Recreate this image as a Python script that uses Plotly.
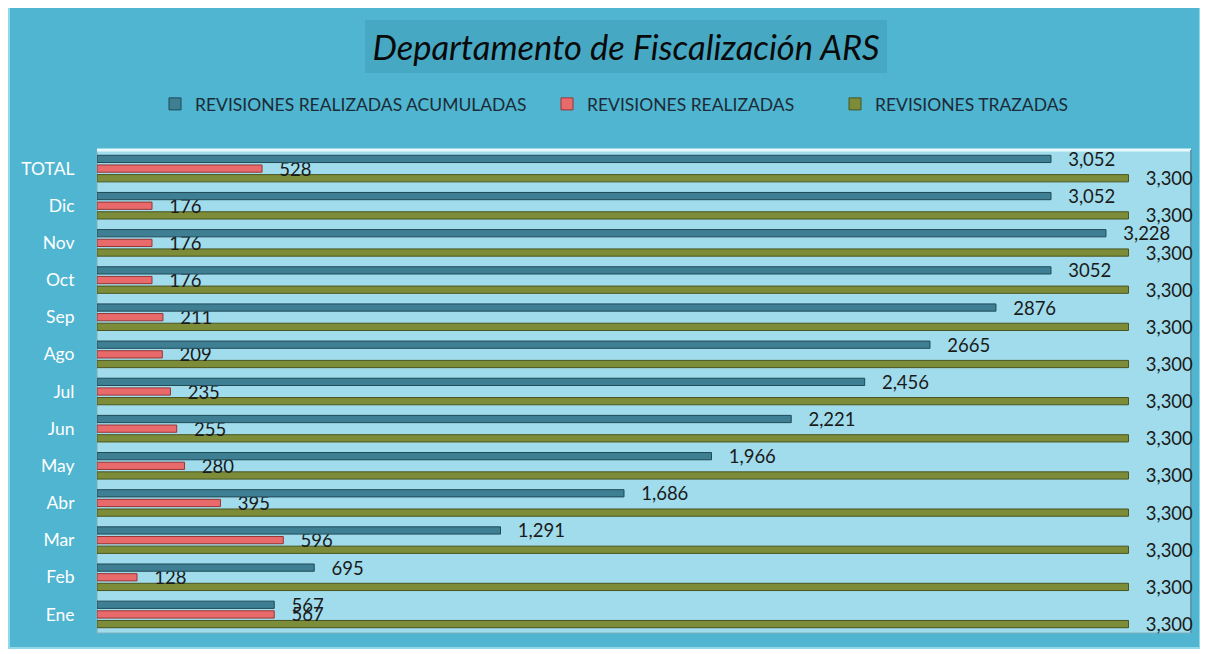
import plotly.graph_objects as go

categories = ["Ene", "Feb", "Mar", "Abr", "May", "Jun", "Jul", "Ago", "Sep", "Oct", "Nov", "Dic", "TOTAL"]
acumuladas = [567, 695, 1291, 1686, 1966, 2221, 2456, 2665, 2876, 3052, 3228, 3052, 3052]
acumuladas_txt = ["567", "695", "1,291", "1,686", "1,966", "2,221", "2,456", "2665", "2876", "3052", "3,228", "3,052", "3,052"]
realizadas = [567, 128, 596, 395, 280, 255, 235, 209, 211, 176, 176, 176, 528]
realizadas_txt = ["567", "128", "596", "395", "280", "255", "235", "209", "211", "176", "176", "176", "528"]
trazadas = [3300] * 13
trazadas_txt = ["3,300"] * 13

# page offset: the html body has an 8px margin
O = 8
PW, PH = 1208, 654
W, H = PW - O, PH - O
# plot area in page pixels
PL, PR, PT, PB = 97, 1191, 150, 633
L, T = PL - O, PT - O
R, B = PW - PR, PH - PB
pw, ph = PR - PL, PB - PT

def px_x(x):
    return (x - PL) / pw

def px_y(y):
    return (PB - y) / ph

fig = go.Figure()

series = [
    ("REVISIONES TRAZADAS", trazadas, trazadas_txt, "#7D8C38", "#4A5520", "legend3"),
    ("REVISIONES REALIZADAS", realizadas, realizadas_txt, "#E86A6A", "#9A3434", "legend2"),
    ("REVISIONES REALIZADAS ACUMULADAS", acumuladas, acumuladas_txt, "#3F7F94", "#1F4A58", "legend"),
]
for name, vals, txt, col, line, lg in series:
    fig.add_trace(go.Bar(
        y=categories, x=vals, name=name, orientation="h", legend=lg,
        text=txt, texttemplate="&nbsp;&nbsp;&nbsp;%{text}",
        textposition="outside", constraintext="none", cliponaxis=False,
        textfont=dict(family="Lato", size=18.5, color="#1A1A1A"),
        marker=dict(color=col, line=dict(color=line, width=1)),
    ))

shapes = [
    # chart area
    dict(type="rect", xref="paper", yref="paper", layer="below",
         x0=px_x(9), x1=px_x(1200), y0=px_y(648), y1=px_y(7),
         fillcolor="#4FB5D1", line=dict(color="#8FD9EA", width=2)),
    # title box
    dict(type="rect", xref="paper", yref="paper", layer="below",
         x0=px_x(365), x1=px_x(887), y0=px_y(73), y1=px_y(20),
         fillcolor="#47A8C3", line=dict(width=0)),
    # plot area
    dict(type="rect", xref="paper", yref="paper", layer="below",
         x0=0, x1=1, y0=0, y1=1,
         fillcolor="#A0DCEB", line=dict(color="#7FAFBC", width=1)),
    dict(type="line", xref="paper", yref="paper", layer="below",
         x0=0, x1=1, y0=1, y1=1, line=dict(color="#E8FAFF", width=3)),
    dict(type="line", xref="paper", yref="paper", layer="below",
         x0=1, x1=1, y0=0, y1=1, line=dict(color="#5E9AAA", width=2)),
]

lgfont = dict(family="Lato", size=17.5, color="#1C2B36")
def lg(xpx):
    return dict(orientation="h", x=px_x(xpx), xanchor="left", y=px_y(104), yanchor="middle",
                font=lgfont, bgcolor="rgba(0,0,0,0)", itemwidth=30)

fig.update_layout(
    width=W, height=H,
    margin=dict(l=L, r=R, t=T, b=B, autoexpand=False),
    paper_bgcolor="white",
    plot_bgcolor="rgba(0,0,0,0)",
    barmode="group", bargap=0.22, bargroupgap=0.25,
    shapes=shapes,
    title=dict(text="<i>Departamento de Fiscalización ARS</i>",
               font=dict(family="Lato", size=34.5, color="#0A0A0A"),
               x=(626 - O) / W, xanchor="center", y=1 - (48 - O) / H, yanchor="middle", yref="container"),
    legend=lg(155),
    legend2=lg(547),
    legend3=lg(835),
    xaxis=dict(range=[0, 3500], visible=False, fixedrange=True),
    yaxis=dict(categoryorder="array", categoryarray=categories,
               showgrid=False, showline=False, zeroline=False,
               ticks="outside", ticklen=18, tickcolor="rgba(0,0,0,0)",
               tickfont=dict(family="Lato", size=17.5, color="white")),
    showlegend=True,
)

fig.write_html("out.html")
